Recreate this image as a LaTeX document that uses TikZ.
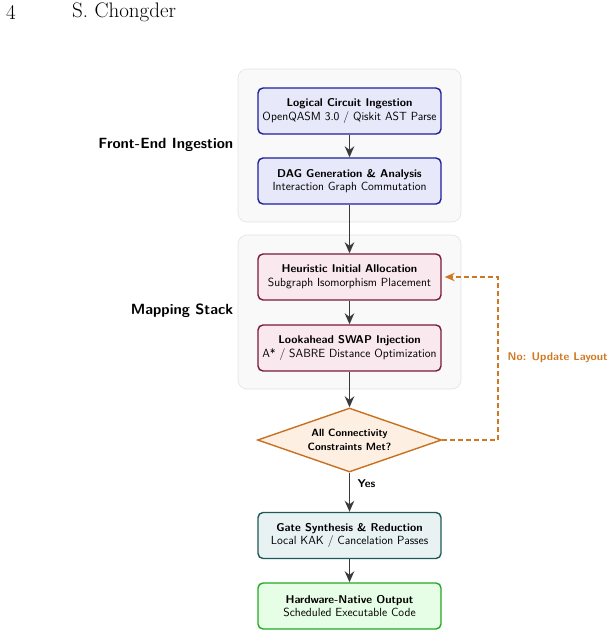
\documentclass[tikz,border=0pt]{standalone}
\usepackage{fontspec}
\usetikzlibrary{shapes.geometric,arrows.meta,calc}
\definecolor{bluebd}{HTML}{1E1E9E}
\definecolor{bluefl}{HTML}{E8E8FB}
\definecolor{marbd}{HTML}{7A1A3A}
\definecolor{marfl}{HTML}{F9E8EE}
\definecolor{orabd}{HTML}{C87020}
\definecolor{orafl}{HTML}{FDF0E2}
\definecolor{tealbd}{HTML}{1E5A5A}
\definecolor{tealfl}{HTML}{E8F2F3}
\definecolor{grnbd}{HTML}{22AA22}
\definecolor{grnfl}{HTML}{E6FDE6}
\definecolor{grpfl}{HTML}{F9F9F9}
\definecolor{grpbd}{HTML}{E2E2E2}
\definecolor{arr}{HTML}{3A3A3A}
\definecolor{dash}{HTML}{D07820}
\begin{document}
\begin{tikzpicture}[x=1pt,y=-1pt,
  stagebox/.style={draw, line width=1.4pt, rounded corners=5pt, minimum width=183pt, minimum height=46pt, inner sep=0pt, align=center, font=\sffamily\fontsize{11.8}{13.5}\selectfont},
  grp/.style={draw=grpbd, fill=grpfl, line width=0.6pt, rounded corners=9pt},
  flow/.style={draw=arr, line width=1.7pt, -{Stealth[length=11pt,width=9.5pt]}},
  side/.style={font=\sffamily\bfseries\fontsize{14.8}{17}\selectfont, anchor=east, inner sep=0pt}
]
\useasboundingbox (0,0) rectangle (613,637);
\node[anchor=west, font=\fontsize{21}{24}\selectfont, inner sep=0pt] (pg) at (6,12.5) {4};
\node[anchor=west, font=\fontsize{21}{24}\selectfont, inner sep=0pt] (au) at (72,12.5) {S. Chongder};

\draw[grp] (238,69) rectangle (461,222);
\draw[grp] (238,235) rectangle (461,389);

\node[stagebox, draw=bluebd, fill=bluefl] (b1) at (349.5,111) {{\bfseries\fontsize{11.3}{13.5}\selectfont Logical Circuit Ingestion}\\OpenQASM 3.0 / Qiskit AST Parse};
\node[stagebox, draw=bluebd, fill=bluefl] (b2) at (349.5,181) {{\bfseries\fontsize{11.3}{13.5}\selectfont DAG Generation \& Analysis}\\Interaction Graph Commutation};
\node[stagebox, draw=marbd, fill=marfl] (b3) at (349.5,277) {{\bfseries\fontsize{11.3}{13.5}\selectfont Heuristic Initial Allocation}\\Subgraph Isomorphism Placement};
\node[stagebox, draw=marbd, fill=marfl] (b4) at (349.5,348) {{\bfseries\fontsize{11.3}{13.5}\selectfont Lookahead SWAP Injection}\\A* / SABRE Distance Optimization};
\node[diamond, draw=orabd, fill=orafl, line width=1.4pt, minimum width=184pt, minimum height=64pt, inner sep=0pt, aspect=2.875, align=center, font=\sffamily\bfseries\fontsize{10.5}{14}\selectfont] (dia) at (349.5,440) {All Connectivity\\Constraints Met?};
\node[stagebox, draw=tealbd, fill=tealfl] (b5) at (349.5,535.5) {{\bfseries\fontsize{11.3}{13.5}\selectfont Gate Synthesis \& Reduction}\\Local KAK / Cancelation Passes};
\node[stagebox, draw=grnbd, fill=grnfl] (b6) at (349.5,606) {{\bfseries\fontsize{11.3}{13.5}\selectfont Hardware-Native Output}\\Scheduled Executable Code};

\node[side] (l1) at (233.5,145) {Front-End Ingestion};
\node[side] (l2) at (233.5,311) {Mapping Stack};

\draw[flow] (b1) -- (b2);
\draw[flow] (b2) -- (b3);
\draw[flow] (b3) -- (b4);
\draw[flow] (b4) -- (dia);
\draw[flow] (dia) -- (b5);
\node[anchor=west, inner sep=0pt, font=\sffamily\bfseries\fontsize{11.3}{13}\selectfont] (yes) at (357.5,484) {Yes};
\draw[flow] (b5) -- (b6);

\coordinate (c1) at (498,440);
\coordinate (c2) at (498,277);
\draw[draw=dash, line width=1.4pt, dash pattern=on 4.5pt off 3.5pt, -{Stealth[length=10pt,width=8.5pt]}, shorten >=3pt] (dia.east) -- (c1) -- (c2) -- (b3.east);
\node[anchor=west, inner sep=0pt, text=dash, font=\sffamily\bfseries\fontsize{11.2}{13}\selectfont] (nl) at (507.5,358) {No: Update Layout};
\end{tikzpicture}
\end{document}
